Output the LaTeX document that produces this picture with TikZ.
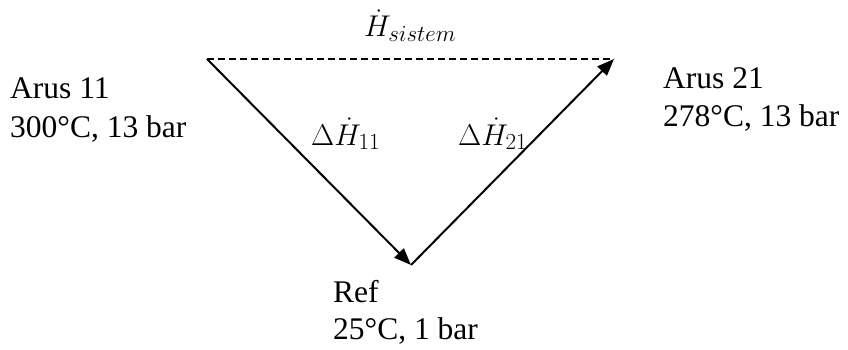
\RequirePackage{fix-cm}
\documentclass[tikz,border=0pt]{standalone}
\usepackage{fontspec}
\setmainfont{Liberation Serif}
\DeclareMathSizes{30}{30}{23}{18}
\usetikzlibrary{arrows.meta}
\begin{document}
\begin{tikzpicture}[x=1pt,y=-1pt,
  lbl/.style={inner sep=0pt,anchor=base west,font=\fontsize{31.5}{38}\selectfont},
  mlbl/.style={inner sep=0pt,anchor=base west,font=\fontsize{30}{36}\selectfont},
  conn/.style={line width=2pt,-{Triangle[length=17pt,width=13pt]}},
  dashconn/.style={line width=2pt,dash pattern=on 7pt off 4pt}]
\useasboundingbox (0,0) rectangle (848,350);
\coordinate (A) at (207,59);
\coordinate (B) at (614,59);
\coordinate (C) at (411,265);
\draw[dashconn] (A) -- (B);
\draw[conn] (A) -- (C);
\draw[conn] (C) -- (B);
\node[mlbl,anchor=base] (hs) at (410,37) {$\dot{H}_{sistem}$};
\node[mlbl] (d11) at (311,145) {$\Delta\dot{H}_{11}$};
\node[mlbl] (d21) at (458,145) {$\Delta\dot{H}_{21}$};
\node[lbl] (a11a) at (10,99) {Arus 11};
\node[lbl] (a11b) at (10,137) {300°C, 13 bar};
\node[lbl] (a21a) at (663,89) {Arus 21};
\node[lbl] (a21b) at (663,127) {278°C, 13 bar};
\node[lbl] (refa) at (333,302) {Ref};
\node[lbl] (refb) at (333,339) {25°C, 1 bar};
\end{tikzpicture}
\end{document}
